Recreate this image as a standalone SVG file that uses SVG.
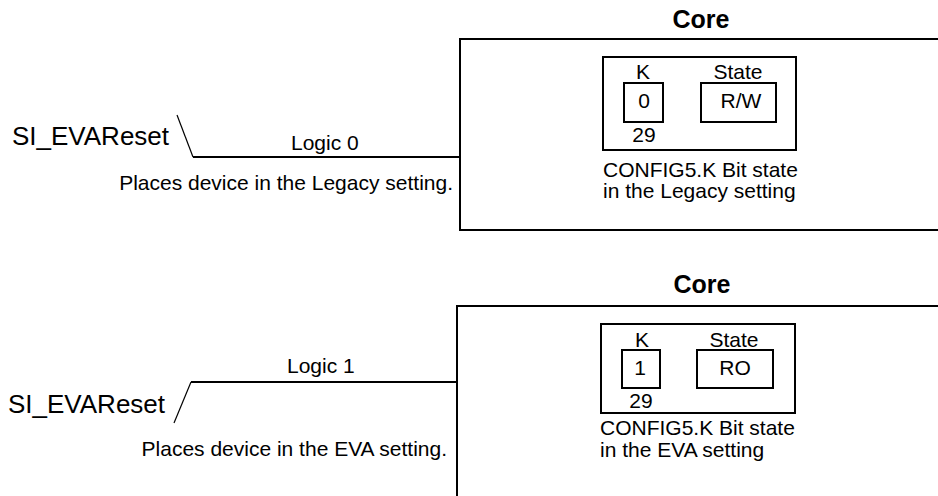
<svg xmlns="http://www.w3.org/2000/svg" width="938" height="496" viewBox="0 0 938 496">
<style>
text{font-family:"Liberation Sans",Arial,sans-serif;fill:#000}
.t{font-size:21px}
.sig{font-size:26px}
.core{font-size:25px;font-weight:bold;text-anchor:middle}
.m{text-anchor:middle}
.e{text-anchor:end}
.box{fill:none;stroke:#000;stroke-width:2}
.wire{fill:none;stroke:#000;stroke-width:2}
.slash{fill:none;stroke:#000;stroke-width:1.2}
</style>
<rect width="938" height="496" fill="#fff"/>
<g id="core-top">
<text class="core" x="701" y="28">Core</text>
<rect class="box" x="460" y="39" width="490" height="191"/>
</g>
<g id="config-top">
<rect class="box" x="603" y="57" width="193" height="93"/>
<text class="t m" x="643" y="79">K</text>
<text class="t m" x="738" y="79">State</text>
<rect class="box" x="624" y="83" width="39" height="39"/>
<rect class="box" x="701" y="83" width="75" height="39"/>
<text class="t m" x="644" y="108">0</text>
<text class="t m" x="741" y="108">R/W</text>
<text class="t m" x="644" y="142">29</text>
<text class="t" x="603" y="177">CONFIG5.K Bit state</text>
<text class="t" x="603" y="198">in the Legacy setting</text>
</g>
<g id="signal-top">
<text class="sig" x="12" y="145">SI_EVAReset</text>
<text class="t" x="291" y="150">Logic 0</text>
<text class="t e" x="453" y="190">Places device in the Legacy setting.</text>
</g>
<g id="core-bottom">
<text class="core" x="702" y="293">Core</text>
<rect class="box" x="457" y="306" width="493" height="200"/>
</g>
<g id="config-bottom">
<rect class="box" x="601" y="324" width="194" height="89"/>
<text class="t m" x="642" y="347">K</text>
<text class="t m" x="734" y="347">State</text>
<rect class="box" x="622" y="350" width="38" height="38"/>
<rect class="box" x="697" y="350" width="76" height="38"/>
<text class="t m" x="640" y="375">1</text>
<text class="t m" x="735" y="375">RO</text>
<text class="t m" x="641" y="408">29</text>
<text class="t" x="600" y="435">CONFIG5.K Bit state</text>
<text class="t" x="600" y="457">in the EVA setting</text>
</g>
<g id="signal-bottom">
<text class="sig" x="8" y="413">SI_EVAReset</text>
<text class="t" x="287" y="373">Logic 1</text>
<text class="t e" x="447" y="456">Places device in the EVA setting.</text>
</g>
<g id="connectors">
<path class="slash" d="M177,115 L193,157"/>
<path class="wire" d="M193,157 H460"/>
<path class="slash" d="M174,423 L191,382"/>
<path class="wire" d="M191,382 H457"/>
</g>
</svg>
